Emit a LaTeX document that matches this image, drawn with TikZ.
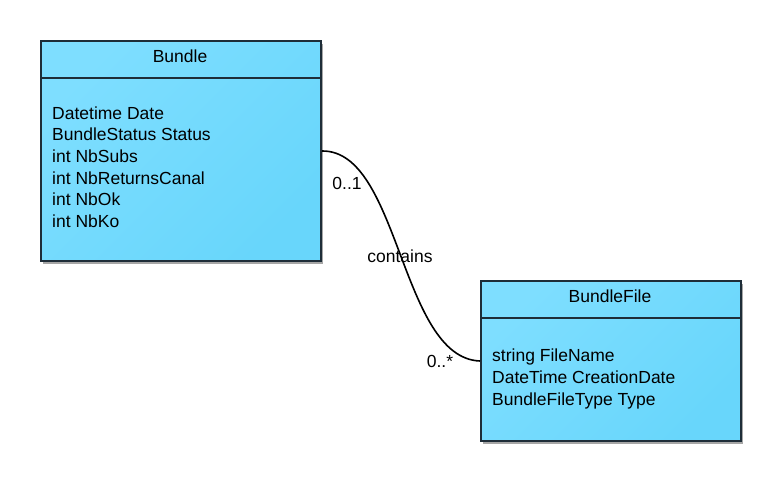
\documentclass[tikz,border=0pt]{standalone}
\usepackage{fontspec}
\setmainfont{Liberation Sans}
\usetikzlibrary{shadows}
\definecolor{boxlight}{HTML}{7EDEFF}
\definecolor{boxdark}{HTML}{68D6FB}
\definecolor{boxline}{HTML}{1E2D38}
\tikzset{
  classbox/.style={draw=boxline, line width=2pt, rectangle, anchor=north west, inner sep=0pt,
    top color=boxlight, bottom color=boxdark, shading angle=45,
    drop shadow={shadow xshift=2pt, shadow yshift=-2.5pt, opacity=0.35, fill=black}},
  headline/.style={draw=boxline, line width=2pt},
  title/.style={font=\fontsize{17.5}{21.6}\selectfont, anchor=center, inner sep=0pt},
  attrs/.style={font=\fontsize{17.5}{21.6}\selectfont, anchor=north west, align=left, inner sep=0pt},
  assoc/.style={draw=black, line width=1.6pt},
  lbl/.style={font=\fontsize{17.5}{21.6}\selectfont, inner sep=0pt}
}
\begin{document}
\begin{tikzpicture}[x=1pt, y=-1pt]
\useasboundingbox (0,0) rectangle (780,480);
% Bundle
\node[classbox, minimum width=280pt, minimum height=220pt] (bundle) at (40,40) {};
\draw[headline] (40,77.5) -- (320,77.5);
\node[title] (bundletitle) at (180,56) {Bundle};
\node[attrs] (bundleattrs) at (52,106.5) {Datetime Date\\BundleStatus Status\\int NbSubs\\int NbReturnsCanal\\int NbOk\\int NbKo};
% BundleFile
\node[classbox, minimum width=260pt, minimum height=160pt] (bfile) at (480,280) {};
\draw[headline] (480,317.5) -- (740,317.5);
\node[title] (bfiletitle) at (610,296) {BundleFile};
\node[attrs] (bfileattrs) at (492,349) {string FileName\\DateTime CreationDate\\BundleFileType Type};
% association
\draw[assoc] (bundle.east) .. controls (400,150) and (400,358) .. (bfile.west);
\node[lbl] (m1) at (347,183) {0..1};
\node[lbl] (rel) at (400,256) {contains};
\node[lbl] (m2) at (440,361) {0..*};
\end{tikzpicture}
\end{document}
